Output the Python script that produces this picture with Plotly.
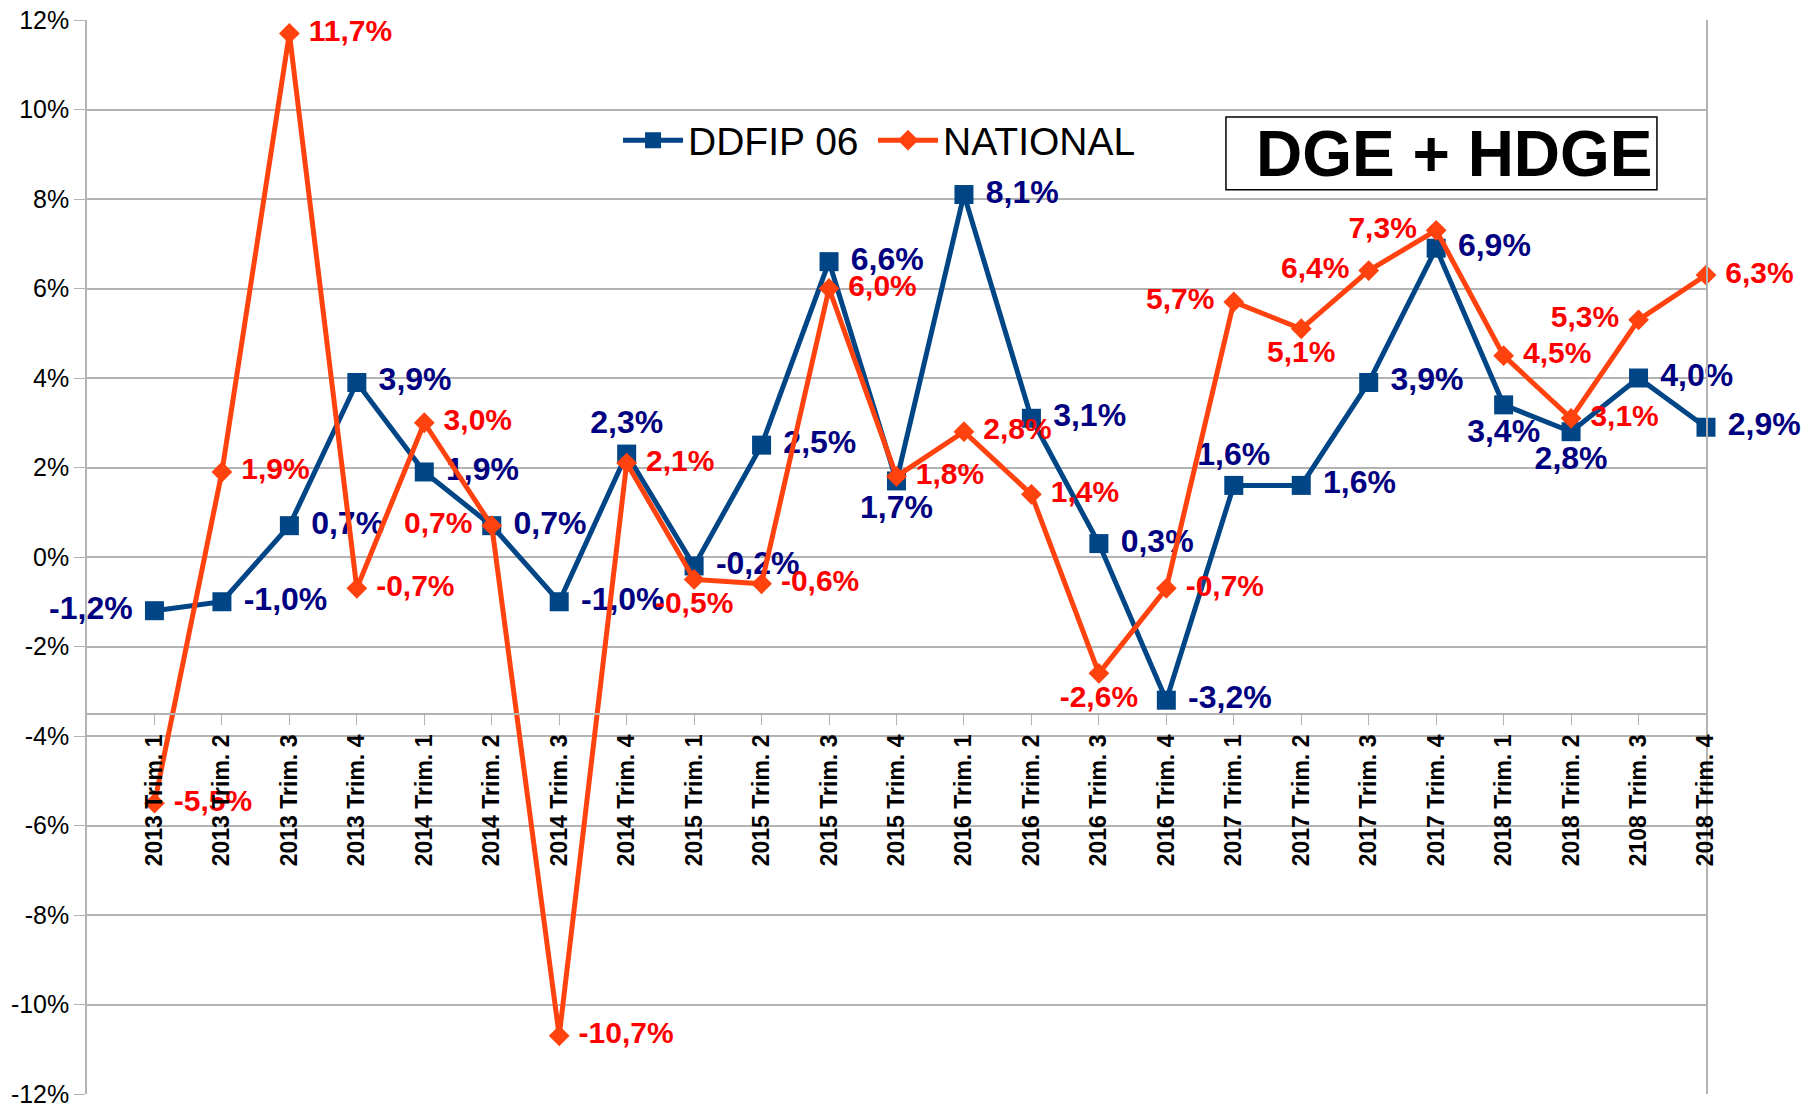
import plotly.graph_objects as go

categories = [
    "2013 Trim. 1", "2013 Trim. 2", "2013 Trim. 3", "2013 Trim. 4",
    "2014 Trim. 1", "2014 Trim. 2", "2014 Trim. 3", "2014 Trim. 4",
    "2015 Trim. 1", "2015 Trim. 2", "2015 Trim. 3", "2015 Trim. 4",
    "2016 Trim. 1", "2016 Trim. 2", "2016 Trim. 3", "2016 Trim. 4",
    "2017 Trim. 1", "2017 Trim. 2", "2017 Trim. 3", "2017 Trim. 4",
    "2018 Trim. 1", "2018 Trim. 2", "2108 Trim. 3", "2018 Trim. 4",
]

ddfip = [-1.2, -1.0, 0.7, 3.9, 1.9, 0.7, -1.0, 2.3, -0.2, 2.5, 6.6, 1.7,
         8.1, 3.1, 0.3, -3.2, 1.6, 1.6, 3.9, 6.9, 3.4, 2.8, 4.0, 2.9]
national = [-5.5, 1.9, 11.7, -0.7, 3.0, 0.7, -10.7, 2.1, -0.5, -0.6, 6.0, 1.8,
            2.8, 1.4, -2.6, -0.7, 5.7, 5.1, 6.4, 7.3, 4.5, 3.1, 5.3, 6.3]

R, L, T, B = "middle right", "middle left", "top center", "bottom center"
ddfip_label_pos = [L, R, R, R, R, R, R, T, R, R, R, B,
                   R, R, R, R, T, R, R, R, B, B, R, R]
national_label_pos = [R, R, R, R, R, L, R, R, B, R, R, R,
                      R, R, B, R, L, B, L, L, R, R, L, R]

y_ticks = list(range(-12, 13, 2))
y_ticktext = [f"{v}%" for v in y_ticks]

NBSP = "\u00a0"


def fmt(v, pos):
    s = f"{v:.1f}%".replace(".", ",")
    if pos == R:
        return NBSP + s
    if pos == L:
        return s + NBSP
    return s


FONT = "Liberation Sans, Arial, sans-serif"
BLUE = "#004586"
ORANGE = "#ff420e"

fig = go.Figure()
fig.add_trace(go.Scatter(
    x=categories, y=ddfip, name="DDFIP 06", mode="lines+markers+text",
    line=dict(color=BLUE, width=5),
    marker=dict(symbol="square", size=19, color=BLUE),
    text=[fmt(v, p) for v, p in zip(ddfip, ddfip_label_pos)],
    textposition=ddfip_label_pos,
    textfont=dict(family=FONT, size=32, color="#000080", weight="bold"),
    cliponaxis=False, legendwidth=180,
))
fig.add_trace(go.Scatter(
    x=categories, y=national, name="NATIONAL", mode="lines+markers+text",
    line=dict(color=ORANGE, width=5),
    marker=dict(symbol="diamond", size=16, color=ORANGE),
    text=[fmt(v, p) for v, p in zip(national, national_label_pos)],
    textposition=national_label_pos,
    textfont=dict(family=FONT, size=30, color="#ff0000", weight="bold"),
    cliponaxis=False,
))

# Title box
fig.add_shape(type="rect", xref="paper", yref="paper",
              x0=0.7035, x1=0.9697, y0=0.842, y1=0.9096,
              line=dict(color="black", width=1.5), fillcolor="white", layer="above")
fig.add_annotation(xref="paper", yref="paper", x=0.9685, y=0.8753,
                   xanchor="right", yanchor="middle", showarrow=False,
                   text="<b>DGE + HDGE</b>",
                   font=dict(family=FONT, size=64, color="black"))

axis_pos = (-3.5 - (-12)) / 24.0

fig.update_layout(
    width=1810, height=1109,
    margin=dict(l=87, r=104, t=20, b=15, autoexpand=False),
    paper_bgcolor="white", plot_bgcolor="white",
    font=dict(family=FONT, color="black"),
    showlegend=True,
    legend=dict(orientation="h", x=0.328, y=0.888, xanchor="left", yanchor="middle",
                font=dict(family=FONT, size=39, color="black"),
                bgcolor="rgba(0,0,0,0)", itemwidth=60, tracegroupgap=0),
    xaxis=dict(
        type="category", range=[-1, 23], anchor="free", position=axis_pos,
        automargin=False,
        showline=True, linecolor="#b3b3b3", linewidth=1.5,
        ticks="outside", ticklen=11, tickcolor="#b3b3b3",
        tickangle=-90, showgrid=False, zeroline=False,
        tickfont=dict(family=FONT, size=23, color="black", weight="bold"),
    ),
    yaxis=dict(
        range=[-12, 12], tickvals=y_ticks, ticktext=y_ticktext,
        automargin=False,
        showgrid=True, gridcolor="#b3b3b3", gridwidth=1.5,
        zeroline=False, showline=True, linecolor="#b3b3b3", linewidth=1.5,
        mirror=True, ticks="outside", ticklen=11, tickcolor="#b3b3b3",
        tickfont=dict(family=FONT, size=25, color="black"),
    ),
)

# remove the browser's default 8px body margin so the figure sits at the page origin
fig.write_html("out.html", config={"displayModeBar": False},
               post_script="document.body.style.margin='0px';")
